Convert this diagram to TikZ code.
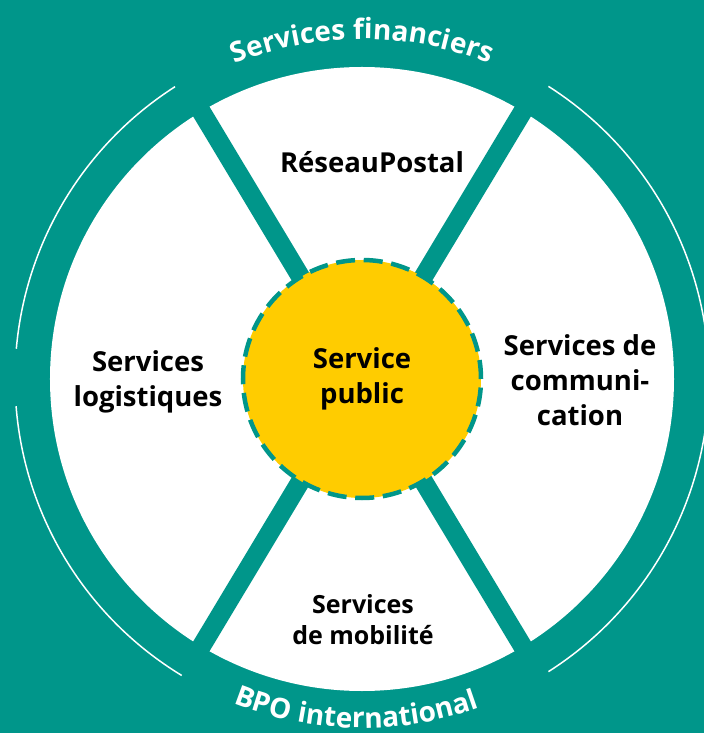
\documentclass[tikz,border=0pt]{standalone}
\usepackage{fontspec}
\setmainfont{Open Sans}
\usetikzlibrary{positioning,decorations.text}
\definecolor{poste}{HTML}{00968A}
\definecolor{gold}{HTML}{FFCC00}

\begin{document}
\begin{tikzpicture}[
    x=1pt, y=1pt,
    spoke/.style={line width=19pt, draw=poste},
    rim/.style={line width=1.5pt, draw=white},
    hub/.style={circle, fill=gold, draw=poste, line width=4.5pt, dash pattern=on 19pt off 8.7pt, minimum size=238pt, inner sep=0pt, align=center, font=\bfseries\fontsize{27.5}{35}\selectfont},
    sector/.style={align=center, inner sep=0pt, font=\bfseries\fontsize{27.5}{35}\selectfont},
    arctext/.style={decorate, decoration={text along path, text align=center, text color=white, text={|\bfseries\fontsize{28}{28}\selectfont|#1}}}
]
    % Background and frame
    \fill[poste] (-362,-354) rectangle (342,379);
    \useasboundingbox (-362,-354) rectangle (342,379);
    \coordinate (c) at (0,0);
    \fill[white] (c) circle[radius=312];

    % Thin outer arcs
    \draw[rim] (122.6:347) arc[start angle=122.6, end angle=175, radius=347];
    \draw[rim] (184.5:347) arc[start angle=184.5, end angle=238.7, radius=347];
    \draw[rim] (-57.5:347) arc[start angle=-57.5, end angle=57.5, radius=347];

    % Spokes
    \foreach \a in {59,121,239,301}
        \draw[spoke] (c) -- (\a:330);

    % Centre
    \node[hub] (pub) at (c) {Service\\public};

    % Sectors
    \node[sector, anchor=base] (reseau) at (10,206) {RéseauPostal};
    \node[sector] (logis) at (-214,-3) {Services\\logistiques};
    \node[sector] (comm) at (218,-1) {Services de\\communi-\\cation};
    \node[sector, font=\bfseries\fontsize{25}{31}\selectfont] (mobil) at (1,-241) {Services\\de mobilité};

    % Ring labels
    \path[arctext={Services financiers}] (122:340) arc[start angle=122, end angle=58, radius=340];
    \path[arctext={BPO international}] (232:349) arc[start angle=232, end angle=306, radius=349];
\end{tikzpicture}
\end{document}
